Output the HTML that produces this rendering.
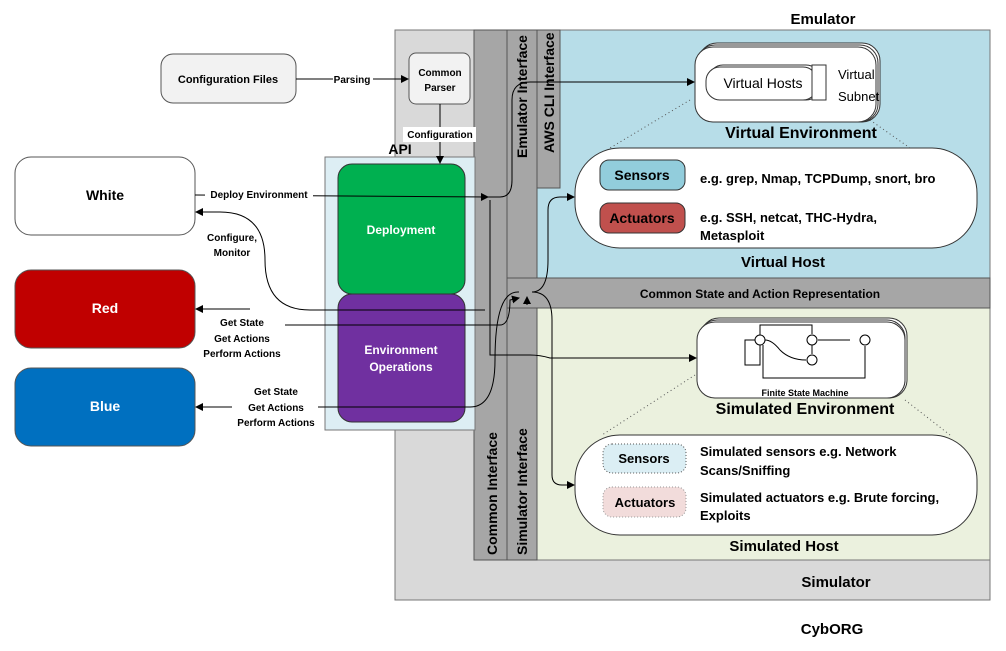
<!DOCTYPE html>
<html><head><meta charset="utf-8"><style>
body{margin:0;background:#fff}
svg{display:block;font-family:"Liberation Sans",sans-serif}
</style></head><body>
<svg width="1006" height="651" viewBox="0 0 1006 651" xmlns="http://www.w3.org/2000/svg">
<defs><marker id="a" markerWidth="8" markerHeight="8" refX="7" refY="4" orient="auto" markerUnits="userSpaceOnUse"><path d="M0,0L8,4L0,8z" fill="#000"/></marker></defs>
<!-- outer -->
<rect x="395" y="30" width="595" height="570" fill="#d9d9d9" stroke="#777"/>
<rect x="537" y="30" width="453" height="248" fill="#b7dde8" stroke="#777"/>
<rect x="537" y="308" width="453" height="252" fill="#ebf1de" stroke="#777"/>
<rect x="474" y="30" width="33" height="530" fill="#a6a6a6" stroke="#555"/>
<rect x="507" y="30" width="30" height="248" fill="#a6a6a6" stroke="#555"/>
<rect x="507" y="308" width="30" height="252" fill="#a6a6a6" stroke="#555"/>
<rect x="537" y="30" width="23" height="158" fill="#a6a6a6" stroke="#555"/>
<rect x="507" y="278" width="483" height="30" fill="#a6a6a6" stroke="#555"/>
<text x="760" y="298" font-size="12" font-weight="bold" text-anchor="middle">Common State and Action Representation</text>
<text transform="translate(497,555) rotate(-90)" font-size="14" font-weight="bold">Common Interface</text>
<text transform="translate(527,555) rotate(-90)" font-size="14" font-weight="bold">Simulator Interface</text>
<text transform="translate(527,158) rotate(-90)" font-size="14" font-weight="bold">Emulator Interface</text>
<text transform="translate(554,153) rotate(-90)" font-size="14" font-weight="bold">AWS CLI Interface</text>
<text x="823" y="24" font-size="15" font-weight="bold" text-anchor="middle">Emulator</text>
<text x="836" y="587" font-size="15" font-weight="bold" text-anchor="middle">Simulator</text>
<text x="832" y="634" font-size="15" font-weight="bold" text-anchor="middle">CybORG</text>
<!-- API -->
<rect x="325" y="157" width="150" height="273" fill="#ddeef4" stroke="#777"/>
<text x="400" y="154" font-size="14" font-weight="bold" text-anchor="middle">API</text>
<rect x="338" y="164" width="127" height="130" rx="14" fill="#00b050" stroke="#333"/>
<text x="401" y="234" font-size="12" font-weight="bold" fill="#fff" text-anchor="middle">Deployment</text>
<rect x="338" y="294" width="127" height="128" rx="14" fill="#7030a0" stroke="#333"/>
<text x="401" y="354" font-size="12" font-weight="bold" fill="#fff" text-anchor="middle">Environment</text>
<text x="401" y="371" font-size="12" font-weight="bold" fill="#fff" text-anchor="middle">Operations</text>
<!-- config -->
<rect x="161" y="54" width="135" height="49" rx="12" fill="#f2f2f2" stroke="#555"/>
<text x="228" y="83" font-size="11" font-weight="bold" text-anchor="middle">Configuration Files</text>
<rect x="409" y="53" width="61" height="51" rx="7" fill="#f2f2f2" stroke="#555"/>
<text x="440" y="76" font-size="10" font-weight="bold" text-anchor="middle">Common</text>
<text x="440" y="91" font-size="10" font-weight="bold" text-anchor="middle">Parser</text>
<line x1="296" y1="79" x2="408" y2="79" stroke="#000" marker-end="url(#a)"/>
<rect x="333" y="72" width="40" height="14" fill="#fff"/>
<text x="352" y="83" font-size="10" font-weight="bold" text-anchor="middle">Parsing</text>
<line x1="440" y1="104" x2="440" y2="163" stroke="#000" marker-end="url(#a)"/>
<rect x="403" y="127" width="73" height="15" fill="#fff"/>
<text x="440" y="138" font-size="10" font-weight="bold" text-anchor="middle">Configuration</text>
<!-- agents -->
<rect x="15" y="157" width="180" height="78" rx="16" fill="#fff" stroke="#555"/>
<text x="105" y="200" font-size="14" font-weight="bold" text-anchor="middle">White</text>
<rect x="15" y="270" width="180" height="78" rx="16" fill="#c00000" stroke="#555"/>
<text x="105" y="313" font-size="14" font-weight="bold" fill="#fff" text-anchor="middle">Red</text>
<rect x="15" y="368" width="180" height="78" rx="16" fill="#0070c0" stroke="#555"/>
<text x="105" y="411" font-size="14" font-weight="bold" fill="#fff" text-anchor="middle">Blue</text>
<!-- connectors -->
<g fill="none" stroke="#000" stroke-width="1">
<path d="M195,195 L488,197" marker-end="url(#a)"/>
<path d="M480,197 L500,197 Q512,197 512,180 L512,100 Q512,82 530,82 L694,82" marker-end="url(#a)"/>
<path d="M485,310 L310,310 Q265,310 265,260 Q265,212 220,212 L196,212" marker-end="url(#a)"/>
<path d="M250,309 L196,309" marker-end="url(#a)"/>
<path d="M285,325 L500,325 Q510,325 510,300 L519,298" marker-end="url(#a)"/>
<path d="M318,407 L470,407 Q495,407 495,360 Q495,290 519,292" />
<path d="M232,407 L196,407" marker-end="url(#a)"/>
<path d="M532,292 Q548,292 548,260 L548,210 Q548,197 560,197 L574,197" marker-end="url(#a)"/>
<path d="M532,292 Q552,292 552,320 L552,475 Q552,485 562,485 L574,485" marker-end="url(#a)"/>
<path d="M490,200 L490,355 L530,355 Q540,355 550,358 L696,358" marker-end="url(#a)"/>
<path d="M527,305 L527,297" marker-end="url(#a)"/>
</g>
<rect x="205" y="188" width="108" height="13" fill="#fff"/>
<text x="259" y="198" font-size="10" font-weight="bold" text-anchor="middle">Deploy Environment</text>
<text x="232" y="241" font-size="10" font-weight="bold" text-anchor="middle">Configure,</text>
<text x="232" y="256" font-size="10" font-weight="bold" text-anchor="middle">Monitor</text>
<g font-size="10" font-weight="bold" text-anchor="middle">
<text x="242" y="326">Get State</text><text x="242" y="342">Get Actions</text><text x="242" y="357">Perform Actions</text>
<text x="276" y="395">Get State</text><text x="276" y="411">Get Actions</text><text x="276" y="426">Perform Actions</text>
</g>
<!-- virtual env -->
<g stroke="#333" fill="#fff">
<rect x="699" y="43" width="181" height="79" rx="18"/>
<rect x="697" y="45" width="181" height="77" rx="18"/>
<rect x="695" y="47" width="181" height="75" rx="18"/>
<rect x="709" y="65" width="111" height="35" rx="14"/>
<rect x="706" y="67" width="111" height="33" rx="14"/>
<rect x="812" y="65" width="14" height="35"/>
</g>
<text x="763" y="88" font-size="14" text-anchor="middle">Virtual Hosts</text>
<text x="838" y="79" font-size="13">Virtual</text>
<text x="838" y="101" font-size="13">Subnet</text>
<text x="801" y="138" font-size="16" font-weight="bold" text-anchor="middle">Virtual Environment</text>
<g stroke="#555" stroke-dasharray="1,3"><line x1="690" y1="100" x2="610" y2="148"/><line x1="870" y1="120" x2="910" y2="148"/></g>
<rect x="575" y="148" width="402" height="100" rx="45" fill="#fff" stroke="#333"/>
<rect x="600" y="160" width="85" height="30" rx="9" fill="#92cddc" stroke="#333"/>
<text x="642" y="180" font-size="14" font-weight="bold" text-anchor="middle">Sensors</text>
<rect x="600" y="203" width="85" height="30" rx="9" fill="#c0504d" stroke="#333"/>
<text x="642" y="223" font-size="14" font-weight="bold" text-anchor="middle">Actuators</text>
<text x="700" y="183" font-size="13" font-weight="bold">e.g. grep, Nmap, TCPDump, snort, bro</text>
<text x="700" y="222" font-size="13" font-weight="bold">e.g. SSH, netcat, THC-Hydra,</text>
<text x="700" y="240" font-size="13" font-weight="bold">Metasploit</text>
<text x="783" y="267" font-size="15" font-weight="bold" text-anchor="middle">Virtual Host</text>
<!-- sim env -->
<g stroke="#333" fill="#fff">
<rect x="701" y="318" width="206" height="80" rx="18"/>
<rect x="699" y="320" width="206" height="78" rx="18"/>
<rect x="697" y="322" width="208" height="76" rx="18"/>
</g>
<g fill="none" stroke="#000" stroke-width="1">
<circle cx="711" cy="340" r="5" transform="translate(49,0)"/>
<circle cx="757" cy="340" r="5" transform="translate(55,0)"/>
<circle cx="812" cy="360" r="5"/>
<circle cx="865" cy="340" r="5"/>
<path d="M850,340 H818"/><path d="M765,340 Q772,340 780,350 Q790,360 806,360"/>
<path d="M760,335 V325 H812 V334"/><path d="M812,345 V354"/>
<path d="M755,340 H745 V365 H760 V345"/>
<path d="M763,345 V378 H865 V346"/>
</g>
<text x="805" y="396" font-size="9" font-weight="bold" text-anchor="middle">Finite State Machine</text>
<text x="805" y="414" font-size="16" font-weight="bold" text-anchor="middle">Simulated Environment</text>
<g stroke="#555" stroke-dasharray="1,3"><line x1="695" y1="375" x2="602" y2="435"/><line x1="905" y1="400" x2="950" y2="435"/></g>
<rect x="575" y="435" width="402" height="100" rx="45" fill="#fff" stroke="#333"/>
<rect x="603" y="444" width="83" height="29" rx="9" fill="#dbeef4" stroke="#555" stroke-dasharray="1,2"/>
<text x="644" y="463" font-size="13" font-weight="bold" text-anchor="middle">Sensors</text>
<rect x="603" y="487" width="83" height="30" rx="9" fill="#f2dcdb" stroke="#999" stroke-dasharray="1,2"/>
<text x="645" y="507" font-size="13" font-weight="bold" text-anchor="middle">Actuators</text>
<text x="700" y="456" font-size="13" font-weight="bold">Simulated sensors e.g. Network</text>
<text x="700" y="475" font-size="13" font-weight="bold">Scans/Sniffing</text>
<text x="700" y="502" font-size="13" font-weight="bold">Simulated actuators e.g. Brute forcing,</text>
<text x="700" y="520" font-size="13" font-weight="bold">Exploits</text>
<text x="784" y="551" font-size="15" font-weight="bold" text-anchor="middle">Simulated Host</text>
</svg>
</body></html>
